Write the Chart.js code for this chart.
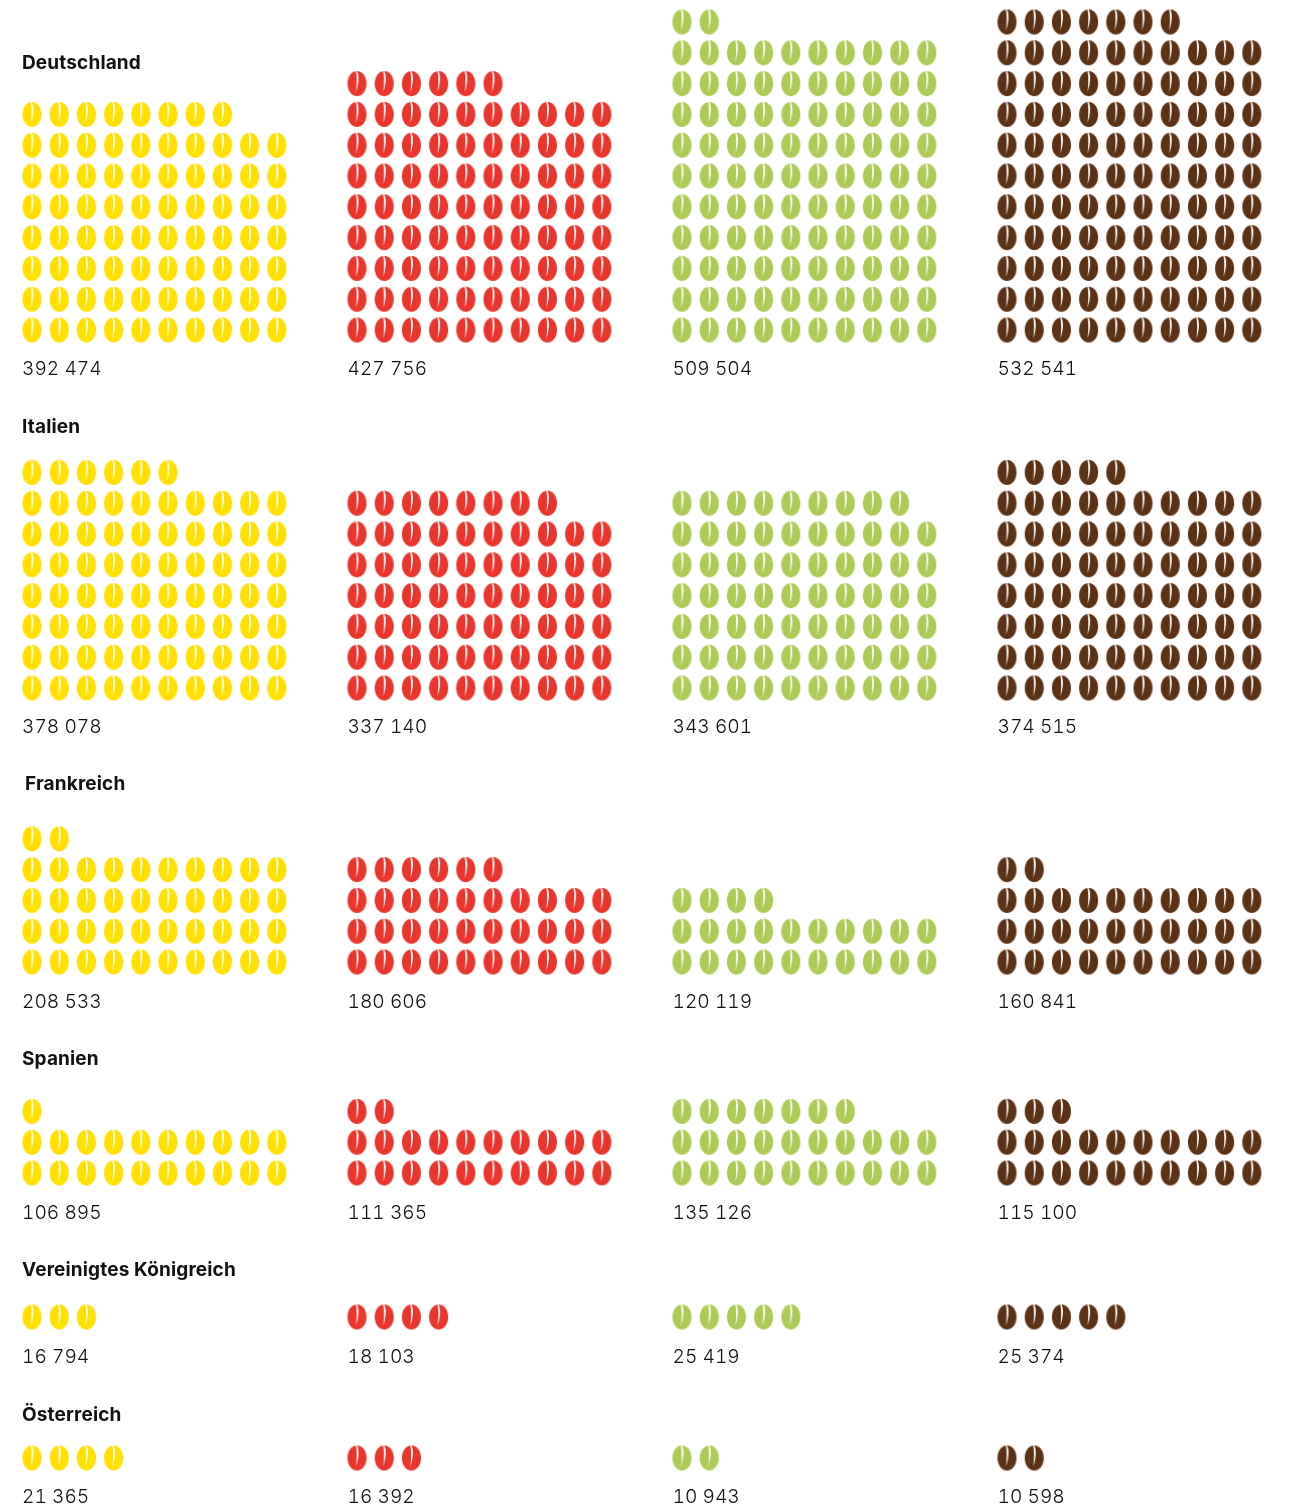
<!DOCTYPE html>
<html>
<head>
<meta charset="utf-8">
<style>
  html, body { margin: 0; padding: 0; background: #fff; }
  #wrap { position: relative; width: 1298px; height: 1506px; overflow: hidden; }
  #chart { position: absolute; left: 0; top: 0; }
  .country, .amount { position: absolute; white-space: nowrap; line-height: 24px; }
  .country { font: 700 19px/24px Inter, sans-serif; letter-spacing: .15px; color: #111; }
  .amount { font: 300 19.2px/24px Inter, sans-serif; font-variant-numeric: tabular-nums; color: #111; }
</style>
<script src="https://cdn.jsdelivr.net/npm/chart.js@4"></script>
</head>
<body>
<div id="wrap"><canvas id="chart" width="1298" height="1506"></canvas></div>
<script>
const countries = ['Deutschland', 'Italien', 'Frankreich', 'Spanien', 'Vereinigtes Königreich', 'Österreich'];
const colors = ['#ffe000', '#e9352e', '#afcb57', '#5b3216'];

// one array per column, one entry per country
const amounts1 = ['392 474', '378 078', '208 533', '106 895', '16 794', '21 365'];
const amounts2 = ['427 756', '337 140', '180 606', '111 365', '18 103', '16 392'];
const amounts3 = ['509 504', '343 601', '120 119', '135 126', '25 419', '10 943'];
const amounts4 = ['532 541', '374 515', '160 841', '115 100', '25 374', '10 598'];

// beans counted off the picture
const beans1 = [78, 76, 42, 21, 3, 4];
const beans2 = [86, 68, 36, 22, 4, 3];
const beans3 = [102, 69, 24, 27, 5, 2];
const beans4 = [107, 75, 32, 23, 5, 2];

const allBeans = [beans1, beans2, beans3, beans4];
const allAmounts = [amounts1, amounts2, amounts3, amounts4];

// layout
const W = 1298, H = 1506;
const colStep = 27.2, rowStep = 30.8, perRow = 10;
const groupStep = 325 / colStep;
const firstBeanX = 32;
const bottomRowY = [330, 688, 962, 1173, 1317, 1458];
const titleY = [63, 427, 784, 1059, 1270, 1415];
const amountY = [368, 726, 1001, 1212, 1356, 1496];
const titleX = [22, 22, 25, 22, 22, 22];
const amountX = [22, 347.5, 672.5, 997.5];

// drawn big and shown small so the fractional positions stay sharp
async function beanImage(color) {
  const k = 4;
  const c = document.createElement('canvas');
  c.width = 21 * k; c.height = 27 * k;
  const g = c.getContext('2d');
  g.scale(k, k);
  g.fillStyle = color;
  g.beginPath();
  g.moveTo(10.5, 1);
  g.bezierCurveTo(16.5, 1, 20, 7, 20, 13.5);
  g.bezierCurveTo(20, 20.5, 16, 26, 10.5, 26);
  g.bezierCurveTo(5, 26, 1, 20.5, 1, 13.5);
  g.bezierCurveTo(1, 7, 4.5, 1, 10.5, 1);
  g.fill();
  // white slit
  g.globalCompositeOperation = 'destination-out';
  g.beginPath();
  g.moveTo(10.2, 0.5);
  g.bezierCurveTo(13.2, 6, 12.2, 13, 9.5, 22);
  g.bezierCurveTo(10.2, 14, 10.8, 7, 9.2, 0.5);
  g.closePath();
  g.fill();
  const img = new Image();
  img.src = c.toDataURL();
  await img.decode();
  img.width = 21;
  img.height = 27;
  return img;
}

function beanPoints(column) {
  const pts = [];
  allBeans[column].forEach((count, country) => {
    const base = (H - bottomRowY[country]) / rowStep;
    for (let i = 0; i < count; i++) {
      pts.push({
        x: column * groupStep + (i % perRow),
        y: base + Math.floor(i / perRow)
      });
    }
  });
  return pts;
}

const wrap = document.getElementById('wrap');
function addText(cls, text, x, y) {
  const el = document.createElement('div');
  el.className = cls;
  el.textContent = text;
  el.style.left = x + 'px';
  el.style.top = (y - 12) + 'px';
  wrap.appendChild(el);
}
countries.forEach((name, i) => {
  addText('country', name, titleX[i], titleY[i]);
  allAmounts.forEach((list, col) => addText('amount', list[i], amountX[col], amountY[i]));
});

async function setup() {
  const images = await Promise.all(colors.map(beanImage));
  new Chart(document.getElementById('chart').getContext('2d'), {
    type: 'scatter',
    data: {
      datasets: colors.map((color, column) => ({
        data: beanPoints(column),
        pointStyle: images[column],
        pointRadius: 10,
        pointHoverRadius: 10,
        clip: false
      }))
    },
    options: {
      responsive: false,
      animation: false,
      events: [],
      layout: { padding: 0, autoPadding: false },
      plugins: { legend: { display: false }, tooltip: { enabled: false } },
      scales: {
        x: { display: false, min: -firstBeanX / colStep, max: (W - firstBeanX) / colStep },
        y: { display: false, min: 0, max: H / rowStep }
      }
    },
    plugins: [{
      id: 'smooth',
      beforeDraw(chart) { chart.ctx.imageSmoothingQuality = 'high'; }
    }]
  });
}
setup();
</script>
</body>
</html>
